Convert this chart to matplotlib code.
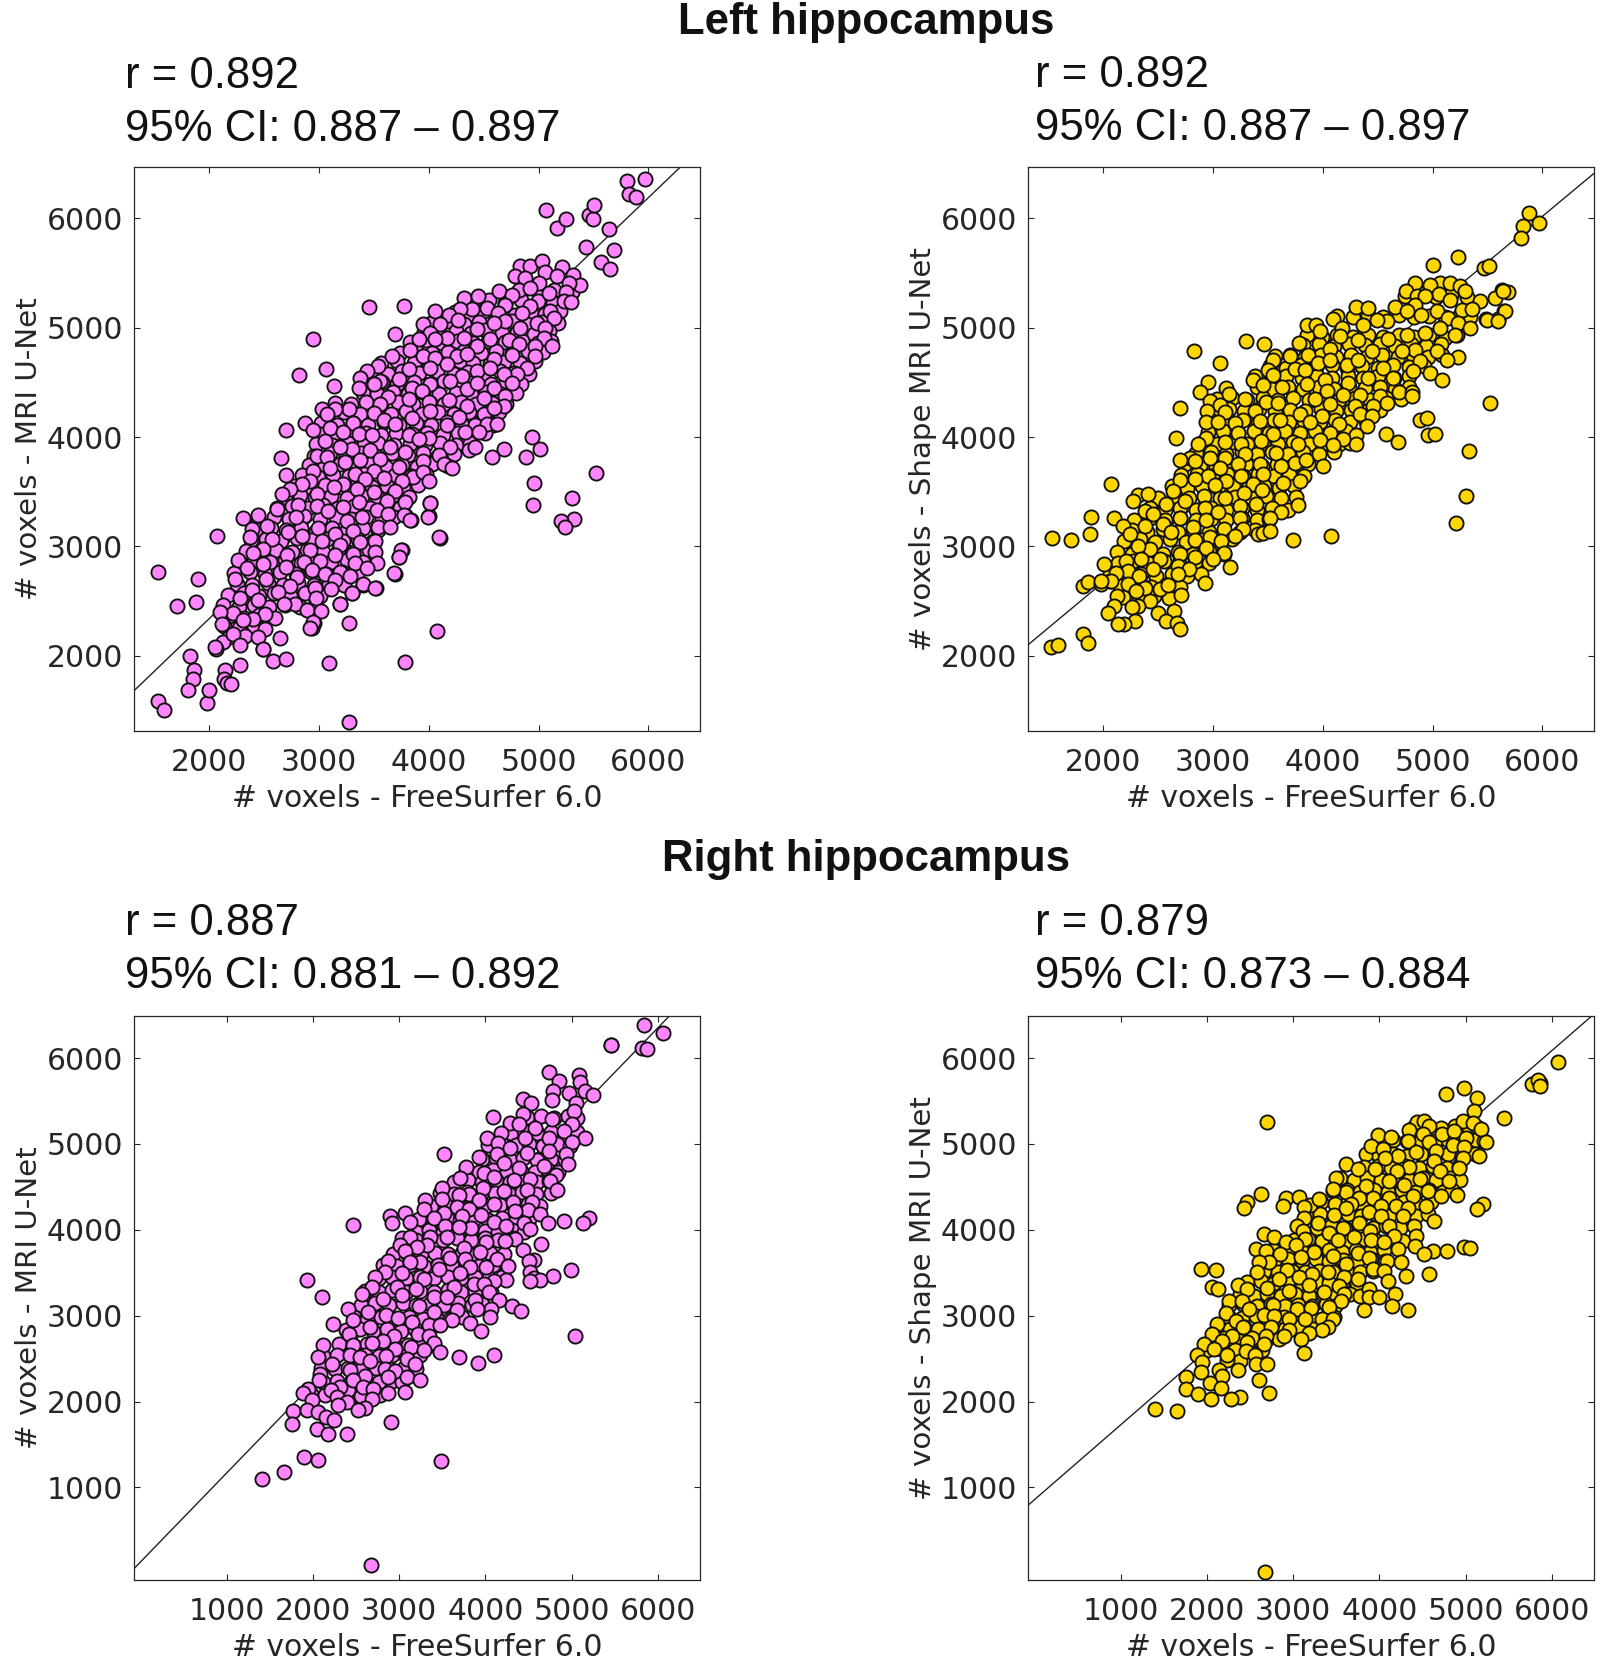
"""Scatter comparison of hippocampus volumes: FreeSurfer 6.0 vs U-Net, left and right."""
import matplotlib
matplotlib.use("Agg")
import matplotlib.pyplot as plt

W, H = 1600, 1663

PINK = "#FF85FF"
YELLOW = "#FFD700"
INK = "#262626"

# (x, y), one list per panel
# the *_HIDDEN lists are the half covered markers inside each cloud, drawn first
LEFT_MRI_HIDDEN = [
    (4840,5335),(5005,5320),(5140,5345),(5305,5330),(4405,5235),(4545,5250),(4690,5225),(4835,5255),(4990,5240),(5130,5230),
    (4240,5140),(4365,5125),(4505,5150),(4640,5135),(4785,5120),(4930,5145),(5060,5130),(5190,5150),(4020,5045),(4170,5060),
    (4320,5035),(4455,5055),(4610,5040),(4760,5060),(4895,5030),(5030,5050),(5175,5045),(3955,4960),(4100,4945),(4245,4970),
    (4380,4955),(4515,4975),(4665,4950),(4805,4965),(4955,4945),(5095,4970),(3825,4870),(3975,4885),(4115,4860),(4260,4875),
    (4405,4860),(4540,4880),(4695,4865),(4845,4880),(4990,4860),(5110,4875),(3735,4770),(3885,4785),(4025,4765),(4175,4780),
    (4315,4790),(4475,4765),(4615,4785),(4755,4770),(4905,4790),(5040,4775),(3565,4680),(3705,4695),(3860,4675),(4000,4690),
    (4125,4670),(4285,4695),(4405,4680),(4555,4665),(4685,4690),(4830,4675),(4965,4695),(3475,4590),(3625,4575),(3755,4600),
    (3905,4585),(4075,4600),(4225,4575),(4355,4595),(4495,4580),(4645,4600),(4775,4585),(4915,4575),(3425,4490),(3575,4505),
    (3705,4485),(3860,4500),(4005,4490),(4135,4510),(4285,4485),(4415,4505),(4565,4490),(4700,4500),(4840,4485),(3395,4405),
    (3525,4390),(3670,4410),(3810,4395),(3950,4415),(4095,4390),(4245,4405),(4385,4395),(4520,4415),(4660,4390),(4790,4400),
    (3145,4315),(3290,4300),(3425,4320),(3560,4305),(3715,4325),(3855,4300),(4005,4315),(4140,4300),(4290,4325),(4430,4305),
    (4575,4315),(4700,4300),(3080,4215),(3225,4230),(3375,4210),(3515,4225),(3650,4215),(3790,4235),(3940,4210),(4085,4225),
    (4225,4215),(4365,4230),(4510,4210),(4640,4225),(3020,4130),(3165,4115),(3305,4125),(3445,4110),(3590,4135),(3730,4115),
    (3880,4130),(4020,4110),(4165,4135),(4305,4115),(4445,4125),(4580,4110),(3010,4025),(3140,4040),(3285,4020),(3425,4035),
    (3560,4020),(3700,4040),(3845,4025),(3985,4040),(4125,4020),(4265,4035),(4405,4025),(4510,4040),(2975,3940),(3115,3925),
    (3260,3945),(3405,3930),(3540,3950),(3685,3925),(3825,3940),(3965,3925),(4105,3945),(4245,3930),(4370,3950),(2955,3830),
    (3100,3850),(3240,3835),(3380,3855),(3520,3830),(3665,3850),(3805,3835),(3945,3855),(4080,3830),(4225,3845),(2905,3745),
    (3045,3730),(3185,3750),(3330,3735),(3465,3755),(3610,3730),(3750,3745),(3890,3730),(4030,3750),(4170,3735),(2845,3650),
    (2985,3635),(3130,3655),(3270,3640),(3410,3660),(3550,3635),(3695,3655),(3835,3640),(3975,3660),(2770,3555),(2910,3540),
    (3055,3560),(3195,3545),(3340,3565),(3480,3540),(3620,3555),(3760,3540),(3900,3560),(2685,3450),(2825,3470),(2965,3450),
    (3110,3465),(3250,3445),(3390,3465),(3530,3450),(3670,3470),(3815,3450),(2615,3355),(2755,3370),(2895,3350),(3035,3375),
    (3175,3355),(3320,3370),(3460,3350),(3600,3365),(3735,3350),(2445,3255),(2585,3270),(2725,3250),(2865,3275),(3010,3255),
    (3150,3270),(3290,3250),(3430,3265),(3570,3255),(3680,3270),(2425,3155),(2560,3170),(2700,3150),(2835,3165),(2975,3145),
    (3115,3170),(3255,3150),(3395,3165),(3535,3150),(2375,3055),(2515,3070),(2655,3050),(2795,3075),(2935,3055),(3075,3070),
    (3215,3050),(3355,3065),(3490,3050),(2330,2960),(2470,2945),(2610,2965),(2750,2950),(2890,2965),(3030,2945),(3170,2960),
    (3310,2945),(3450,2965),(2270,2860),(2410,2875),(2550,2855),(2690,2875),(2830,2850),(2970,2870),(3110,2855),(3250,2875),
    (3400,2855),(2225,2755),(2365,2770),(2505,2750),(2645,2770),(2785,2750),(2925,2770),(3065,2750),(3205,2765),(3340,2750),
    (2250,2660),(2390,2645),(2530,2665),(2670,2650),(2810,2665),(2950,2645),(3090,2660),(3230,2645),(2170,2555),(2310,2570),
    (2450,2550),(2590,2570),(2730,2555),(2870,2570),(3010,2550),(2125,2460),(2265,2445),(2405,2465),(2545,2445),(2685,2465),
    (2825,2450),(2960,2465),(2175,2365),(2315,2350),(2455,2370),(2600,2350),(2130,2270),(2270,2255),(2410,2275),(2175,2170),
    (2320,2180),(2120,2125),
]

LEFT_MRI = [
    (1535,2769),(1706,2459),(1891,2698),(1878,2492),(1824,1995),(1857,1871),(1849,1785),(1807,1689),
    (1535,1584),(1585,1508),(1975,1570),(1996,1689),(2143,1871),(2130,1790),(2164,1747),(2197,1742),
    (2281,1914),(2579,1952),(2696,1971),(3086,1933),(3778,1947),(3275,1398),(3275,2296),(4075,2225),
    (2059,2062),(2486,2062),(2646,2167),(2931,2253),(2948,2296),(3191,2478),(3296,2573),(3400,2650),
    (3514,2621),(3686,2750),(3723,2903),(3757,2970),(3778,3290),(3832,3242),(3996,3276),(4013,3395),
    (4105,3080),(4939,3997),(5015,3887),(4880,3816),(4683,3892),(4579,3816),(4960,3581),(4952,3381),
    (5526,3667),(5300,3443),(5325,3252),(5203,3237),(5241,3180),
    (5065,6080),(5170,5913),(5245,5990),(5463,6028),(5497,5990),(5501,6119),(5644,5904),(5434,5741),
    (5690,5712),(5572,5598),(5652,5540),(5807,6338),(5966,6357),(5824,6224),(5891,6200),
    (4832,5562),(4923,5562),(5030,5613),(5212,5553),(4787,5471),(4878,5455),(5060,5510),(5167,5471),
    (5313,5486),(5379,5395),(5000,5410),(5273,5410),(4635,5334),(4817,5349),(4923,5364),(5252,5325),
    (5227,5243),(5294,5237),(4321,5273),(4443,5288),(4756,5303),(5091,5319),(4528,5182),(4695,5212),
    (4923,5197),(5106,5151),(4391,5167),(4285,5167),(4051,5151),(4179,5121),(4625,5136),(4847,5136),
    (5136,5085),(4261,5069),(3950,5036),(4437,4984),(4695,5066),(4984,5045),(4103,5030),(4589,5045),
    (4832,4999),(5060,4999),(4011,4954),(4163,4902),(4315,4908),(4559,4893),(4726,4884),(5045,4902),
    (3911,4893),(4057,4893),(4437,4832),(4817,4847),(4969,4832),(5121,4832),(3950,4741),(3829,4793),
    (4255,4741),(4346,4756),(4057,4726),(4589,4711),(4756,4750),(4969,4741),(3662,4741),(4163,4665),
    (4437,4604),(4559,4635),(4893,4629),(3540,4650),(3814,4619),(4011,4629),(4802,4580),(4300,4559),
    (4680,4574),(3434,4604),(3555,4513),(3723,4528),(4194,4513),(4756,4498),(3373,4543),(3358,4446),
    (3495,4483),(3844,4452),(4011,4483),(4346,4437),(4437,4498),(4589,4452),(3631,4370),(3935,4422),
    (4695,4376),(4179,4337),(3996,4325),(4498,4361),(4346,4285),(3555,4300),(3814,4346),(3267,4255),
    (3145,4255),(3023,4255),(3069,4215),(3495,4224),(4680,4285),(3844,4179),(4011,4240),(4270,4185),
    (4498,4215),(4589,4270),(2871,4133),(2947,4066),(2698,4066),(3312,4133),(3586,4154),(3099,4087),
    (3221,4042),(3358,4027),(3479,4021),(3692,4124),(3814,4021),(4163,4112),(4421,4112),(4528,4124),
    (4619,4124),(4331,4042),(4452,4042),(3996,3996),(3054,3966),(3297,3890),(3464,3881),(3647,3905),
    (3783,3859),(3905,3981),(4194,3905),(4361,3881),(4421,3911),(4087,3838),(2978,3829),(3069,3814),
    (3191,3905),(3236,3768),(3373,3789),(3555,3799),(3950,3777),(4133,3753),(4209,3713),(2947,3686),
    (3099,3716),(3723,3729),(3495,3692),(3859,3637),(3950,3677),(3996,3601),(2917,3601),(2841,3571),
    (2735,3525),(3327,3662),(3586,3625),(3753,3595),(3419,3616),(3221,3571),(3136,3540),(3343,3525),
    (3692,3510),(3495,3495),(2659,3479),(2978,3479),(2802,3382),(2613,3343),(3616,3419),(3215,3358),
    (3358,3403),(3783,3403),(2978,3373),(3084,3321),(3525,3333),(3631,3297),(3768,3291),(3829,3242),
    (4005,3394),(3987,3273),(4093,3084),(2789,3267),(2446,3291),(2309,3260),(3251,3236),(3388,3267),
    (2993,3169),(3540,3181),(3312,3145),(3647,3175),(2385,3160),(2522,3191),(2370,3090),(2719,3130),
    (2567,3069),(2841,3099),(3145,3114),(3373,3039),(3023,3054),(3510,3054),(3191,3017),(2917,2969),
    (2491,2978),(2400,2938),(2704,2926),(3145,2926),(3312,2932),(3510,2947),(2263,2877),(2862,2856),
    (3008,2865),(3327,2847),(3525,2847),(2339,2805),(2698,2811),(2491,2841),(2932,2780),(3434,2805),
    (3191,2765),(3054,2750),(3744,2969),(3723,2902),(3677,2756),(2233,2704),(2516,2704),(2801,2719),
    (3282,2725),(3145,2695),(2385,2598),(2735,2634),(3403,2659),(3510,2622),(3105,2613),(2963,2622),
    (3297,2573),(2628,2582),(2279,2531),(2972,2528),(2446,2507),(3191,2476),(2780,2476),(2680,2470),
    (2507,2385),(2887,2422),(3014,2409),(2218,2391),(2096,2400),(2400,2339),(2309,2324),(2111,2288),
    (2507,2248),(2947,2309),(2917,2257),(2218,2197),(2446,2172),(2279,2096),(2051,2081),(2491,2066),
    (2072,3099),(2649,3805),(2698,3653),(2820,4568),(2947,4899),(3063,4619),(3136,4467),(3458,5191),
    (3774,5197),(3692,4939),
]

LEFT_SHAPE_HIDDEN = [
    (4750,5290),(4890,5305),(5030,5285),(5170,5300),(5310,5280),(4130,5110),(4270,5095),(4410,5115),(4550,5100),(4690,5120),
    (4830,5095),(4970,5110),(5110,5100),(5250,5115),(5340,5100),(3850,4930),(3990,4915),(4130,4935),(4270,4915),(4410,4930),
    (4550,4915),(4690,4935),(4830,4915),(4970,4930),(5110,4910),(5225,4930),(3820,4840),(3960,4855),(4100,4835),(4240,4855),
    (4380,4840),(4520,4855),(4660,4835),(4800,4855),(4940,4835),(5080,4850),(3560,4740),(3700,4755),(3840,4735),(3980,4750),
    (4120,4730),(4260,4755),(4400,4735),(4540,4750),(4680,4730),(4820,4755),(4960,4735),(5085,4750),(3520,4650),(3660,4635),
    (3800,4655),(3940,4640),(4080,4655),(4220,4635),(4360,4650),(4500,4635),(4640,4655),(4780,4640),(4920,4650),(3385,4555),
    (3525,4540),(3665,4560),(3805,4540),(3945,4555),(4085,4540),(4225,4560),(4365,4540),(4505,4555),(4645,4540),(4785,4555),
    (3400,4455),(3540,4440),(3680,4460),(3820,4440),(3960,4455),(4100,4440),(4240,4460),(4380,4445),(4520,4460),(4660,4440),
    (4780,4460),(3030,4345),(3170,4360),(3310,4340),(3450,4360),(3590,4340),(3730,4355),(3870,4340),(4010,4360),(4150,4340),
    (4290,4355),(4430,4340),(4570,4360),(4710,4345),(3000,4240),(3140,4255),(3280,4235),(3420,4255),(3560,4235),(3700,4250),
    (3840,4235),(3980,4255),(4120,4235),(4260,4250),(4400,4235),(4520,4250),(2990,4150),(3130,4135),(3270,4155),(3410,4135),
    (3550,4155),(3690,4135),(3830,4150),(3970,4135),(4110,4155),(4250,4135),(4390,4150),(2950,4045),(3090,4060),(3230,4040),
    (3370,4060),(3510,4040),(3650,4055),(3790,4040),(3930,4060),(4070,4040),(4210,4055),(2890,3950),(3030,3935),(3170,3955),
    (3310,3935),(3450,3950),(3590,3935),(3730,3955),(3870,3935),(4010,3950),(4150,3935),(4250,3950),(2840,3850),(2980,3865),
    (3120,3845),(3260,3865),(3400,3845),(3540,3860),(3680,3845),(3820,3865),(3960,3845),(4100,3860),(2740,3750),(2880,3735),
    (3020,3755),(3160,3735),(3300,3750),(3440,3735),(3580,3755),(3720,3735),(3860,3750),(4000,3735),(2710,3650),(2850,3665),
    (2990,3645),(3130,3665),(3270,3645),(3410,3660),(3550,3645),(3690,3665),(3830,3645),(2620,3550),(2760,3535),(2900,3555),
    (3040,3535),(3180,3550),(3320,3535),(3460,3555),(3600,3535),(3740,3550),(2500,3445),(2640,3460),(2780,3440),(2920,3460),
    (3060,3440),(3200,3455),(3340,3440),(3480,3460),(3620,3440),(3750,3455),(2420,3350),(2560,3335),(2700,3355),(2840,3335),
    (2980,3350),(3120,3335),(3260,3355),(3400,3335),(3540,3350),(3680,3335),(2280,3245),(2420,3260),(2560,3240),(2700,3260),
    (2840,3240),(2980,3255),(3120,3240),(3260,3260),(3400,3240),(3510,3255),(2260,3150),(2400,3135),(2540,3155),(2680,3135),
    (2820,3150),(2960,3135),(3100,3155),(3240,3135),(3380,3150),(2190,3050),(2330,3065),(2470,3045),(2610,3065),(2750,3045),
    (2890,3060),(3030,3045),(3170,3065),(2120,2950),(2260,2935),(2400,2955),(2540,2935),(2680,2950),(2820,2935),(2960,2955),
    (3100,2935),(2130,2850),(2270,2865),(2410,2845),(2550,2865),(2690,2845),(2830,2860),(2960,2845),(2060,2745),(2200,2730),
    (2340,2750),(2480,2730),(2620,2745),(2760,2730),(2890,2750),(2150,2635),(2290,2650),(2430,2630),(2570,2650),(2700,2630),
    (2180,2540),(2320,2525),(2460,2545),(2600,2525),
]

LEFT_SHAPE = [
    (1535,3075),(1706,3056),(1887,3271),(1878,3113),(1811,2635),(1862,2674),(1975,2659),(2063,2683),
    (1526,2081),(1581,2096),(1816,2196),(1857,2119),(5878,6052),(5820,5927),(5803,5822),(5966,5961),
    (5690,5330),(5635,5344),(5648,5149),(5593,5082),(5488,5082),
    (5235,5644),(5003,5577),(5464,5546),(5509,5561),(4840,5409),(5068,5409),(4977,5394),(5159,5409),
    (5251,5379),(5296,5333),(4760,5340),(5062,5309),(4853,5288),(4929,5288),(5159,5258),(5430,5243),
    (5567,5273),(5643,5333),(4304,5188),(4410,5182),(4657,5188),(4840,5212),(5265,5166),(5357,5175),
    (5037,5151),(5655,5151),(5494,5075),(5591,5065),(4094,5083),(3850,5029),(3941,5023),(4581,5059),
    (4763,5151),(4897,5120),(4173,4998),(4363,5029),(4490,5075),(3972,4974),(5144,5090),(5235,5044),
    (5336,4998),(4931,4953),(5205,4937),(5068,4998),(4155,4922),(4322,4892),(4596,4901),(4763,4937),
    (3780,4861),(3302,4876),(3461,4852),(2825,4791),(3065,4673),(4063,4809),(4444,4791),(4840,4800),
    (5037,4785),(4718,4785),(3865,4749),(3698,4739),(5235,4730),(5129,4709),(3546,4709),(3957,4679),
    (4216,4663),(4063,4709),(4322,4709),(4551,4633),(4885,4694),(3500,4618),(3744,4627),(3835,4609),
    (4825,4602),(4971,4587),(4414,4541),(5083,4526),(3546,4572),(4642,4541),(4018,4526),(3363,4526),
    (3631,4456),(3850,4487),(4231,4496),(2952,4502),(3454,4475),(4033,4426),(4696,4414),(3114,4450),
    (3144,4398),(2876,4411),(4809,4414),(4809,4374),(4337,4389),(4520,4374),(4185,4389),(3287,4344),
    (3485,4323),(3926,4344),(3592,4313),(4063,4298),(2974,4328),(3059,4292),(2694,4268),(4292,4283),
    (4459,4283),(4581,4313),(3378,4237),(2943,4243),(3104,4231),(5525,4313),(3789,4207),(3987,4192),
    (4337,4213),(3424,4146),(2937,4137),(3044,4140),(3196,4131),(3607,4152),(3881,4140),(4149,4122),
    (4444,4192),(4886,4152),(4946,4176),(4398,4100),(3226,4039),(3546,4024),(4063,4039),(4575,4030),
    (4961,4018),(5022,4024),(4681,3957),(2657,3988),(3439,3963),(3972,3969),(4301,4018),(4298,3933),
    (4185,3979),(2937,3994),(2861,3939),(3104,3957),(3257,3933),(3774,3933),(4094,3927),(5327,3872),
    (3576,3857),(3287,3848),(3104,3811),(2968,3811),(2785,3811),(2694,3787),(2831,3781),(3424,3750),
    (3226,3750),(3744,3765),(3844,3787),(3622,3735),(2952,3644),(3059,3714),(3455,3659),(3257,3644),
    (2694,3604),(2831,3613),(3789,3598),(3637,3583),(2070,3574),(3120,3598),(3363,3574),(2633,3507),
    (2313,3467),(2404,3476),(2273,3415),(3013,3561),(2739,3415),(3448,3513),(3278,3491),(3105,3446),
    (2572,3391),(2922,3354),(3242,3370),(3394,3391),(3768,3379),(3622,3318),(3515,3263),(2374,3324),
    (2450,3294),(3044,3315),(2100,3257),(2182,3187),(2694,3263),(3248,3257),(2937,3239),(2374,3187),
    (2541,3202),(2815,3178),(2243,3111),(2617,3132),(3272,3157),(3196,3096),(3409,3117),(3454,3127),
    (3515,3141),(3729,3056),(4073,3096),(5302,3461),(5211,3211),(2831,3056),(2968,3087),(2420,2974),
    (2313,3004),(3074,3050),(2937,2989),(3095,2944),(2694,2928),(2511,2883),(2207,2867),(2009,2843),
    (2831,2904),(2996,2883),(2343,2883),(2678,2822),(2450,2791),(2776,2791),(3150,2815),(2222,2776),
    (2115,2761),(2678,2746),(2328,2730),(2070,2685),(2222,2660),(2511,2614),(2380,2618),(2587,2648),
    (2928,2663),(1978,2685),(2298,2593),(2121,2548),(2709,2554),(2420,2502),(2100,2457),(2313,2457),
    (2261,2447),(2039,2395),(2496,2389),(2639,2411),(2572,2319),(2283,2319),(2191,2295),(2130,2295),
    (2669,2304),(2694,2243),
]

RIGHT_MRI_HIDDEN = [
    (4480,5310),(4640,5325),(4800,5305),(4960,5320),(5060,5305),(4300,5130),(4450,5145),(4600,5125),(4760,5140),(4920,5120),
    (5060,5135),(4030,4990),(4190,5005),(4350,4985),(4510,5000),(4670,4980),(4830,5000),(4985,4980),(3960,4820),(4120,4835),
    (4280,4815),(4440,4835),(4600,4815),(4760,4830),(4920,4815),(3770,4690),(3930,4675),(4090,4695),(4250,4675),(4410,4690),
    (4570,4675),(4730,4695),(4840,4675),(3640,4560),(3800,4575),(3960,4555),(4120,4575),(4280,4555),(4440,4570),(4600,4555),
    (4740,4570),(3470,4430),(3630,4415),(3790,4435),(3950,4415),(4110,4430),(4270,4415),(4430,4435),(4590,4415),(4760,4430),
    (3370,4280),(3530,4295),(3690,4275),(3850,4295),(4010,4275),(4170,4290),(4330,4275),(4490,4295),(4630,4275),(3230,4130),
    (3390,4115),(3550,4135),(3710,4115),(3870,4130),(4030,4115),(4190,4135),(4350,4115),(4510,4130),(3190,3980),(3350,3995),
    (3510,3975),(3670,3995),(3830,3975),(3990,3990),(4150,3975),(4310,3995),(4450,3975),(3030,3900),(3190,3885),(3350,3905),
    (3510,3885),(3670,3900),(3830,3885),(3990,3905),(4150,3885),(4320,3900),(2930,3720),(3090,3735),(3250,3715),(3410,3735),
    (3570,3715),(3730,3730),(3890,3715),(4050,3735),(4210,3715),(2810,3590),(2970,3575),(3130,3595),(3290,3575),(3450,3590),
    (3610,3575),(3770,3595),(3930,3575),(4090,3590),(4250,3575),(2760,3440),(2920,3455),(3080,3435),(3240,3455),(3400,3435),
    (3560,3450),(3720,3435),(3880,3455),(4040,3435),(4190,3450),(2600,3290),(2760,3275),(2920,3295),(3080,3275),(3240,3290),
    (3400,3275),(3560,3295),(3720,3275),(3880,3290),(4060,3275),(2560,3130),(2720,3145),(2880,3125),(3040,3145),(3200,3125),
    (3360,3140),(3520,3125),(3680,3145),(3840,3125),(3960,3140),(2470,2980),(2630,2965),(2790,2985),(2950,2965),(3110,2980),
    (3270,2965),(3430,2985),(3590,2965),(3730,2980),(2380,2830),(2540,2845),(2700,2825),(2860,2845),(3020,2825),(3180,2840),
    (3340,2825),(2300,2670),(2460,2655),(2620,2675),(2780,2655),(2940,2670),(3100,2655),(3260,2675),(3400,2655),(2120,2530),
    (2280,2545),(2440,2525),(2600,2545),(2760,2525),(2920,2540),(3080,2525),(3240,2545),(2090,2390),(2250,2375),(2410,2395),
    (2570,2375),(2730,2390),(2890,2375),(3050,2395),(3190,2375),(2120,2230),(2280,2245),(2440,2225),(2600,2245),(2760,2225),
    (2920,2240),(3030,2225),(1980,2090),(2140,2075),(2300,2095),(2460,2075),(2620,2090),(2780,2075),(2400,2130),(2560,2060),
]

RIGHT_MRI = [
    (1411,1098),(1661,1183),(1896,1360),(2056,1323),(3485,1305),(2669,91),(5459,6158),(5837,6384),
    (5816,6116),(5875,6110),(6061,6293),
    (5457,6149),(4733,5835),(5082,5808),(4849,5738),(5093,5723),(4780,5622),(4973,5595),(5159,5614),
    (5244,5568),(4772,5506),(5055,5479),(4431,5525),(4528,5479),(5024,5382),(4083,5316),(4431,5343),
    (4772,5285),(5004,5227),(4288,5247),(4578,5181),(4908,5150),(5159,5065),(4017,5065),(4180,5130),
    (4385,5227),(4462,5072),(4733,5072),(5004,5026),(4141,5014),(4288,4956),(3920,4848),(3522,4887),
    (4733,4918),(4939,4887),(4482,4898),(4133,4887),(4954,4771),(4675,4743),(3777,4732),(4211,4782),
    (4385,4716),(3979,4666),(4822,4635),(3708,4608),(4102,4616),(4520,4588),(4327,4577),(4745,4569),
    (4830,4461),(3495,4484),(3971,4492),(4482,4465),(3804,4422),(4211,4453),(3495,4356),(3301,4345),
    (3688,4407),(3920,4345),(4319,4329),(4540,4329),(3669,4267),(4095,4298),(3804,4248),(3282,4248),
    (4489,4232),(3522,4194),(3069,4201),(2895,4163),(3727,4163),(4637,4190),(4346,4221),(3947,4174),
    (2914,4085),(3127,4093),(2469,4058),(4102,4093),(4242,4047),(4451,4074),(4722,4074),(4907,4105),
    (5198,4132),(5132,4074),(3398,4143),(3835,4020),(3533,4047),(4520,4008),(3688,4035),(3119,3919),
    (3359,3911),(3553,3911),(4338,3892),(4005,3853),(4230,3872),(4644,3834),(3003,3826),(3320,3826),
    (3746,3787),(4435,3768),(3204,3803),(3940,3737),(3069,3748),(3591,3671),(4133,3659),(4559,3648),
    (4501,3632),(3766,3659),(2875,3640),(3243,3621),(3127,3621),(3456,3543),(4261,3582),(4009,3563),
    (3824,3563),(4989,3536),(3030,3493),(2837,3505),(3707,3497),(4520,3505),(4784,3458),(4559,3439),
    (4629,3416),(4520,3400),(2720,3447),(1935,3416),(3290,3427),(4242,3416),(4095,3400),(3862,3369),
    (3630,3330),(3978,3369),(2682,3330),(3193,3311),(2972,3338),(2101,3214),(2565,3253),(3398,3214),
    (3553,3214),(4036,3272),(4153,3183),(3882,3183),(3030,3245),(2817,3195),(3231,3110),(4307,3110),
    (4412,3052),(2411,3079),(4064,3079),(3669,3067),(2848,3013),(2643,3040),(3398,3040),(3901,3079),
    (2980,2970),(2469,2951),(3146,2924),(3611,2951),(4056,2982),(2236,2905),(3351,2897),(3475,2897),
    (3816,2912),(2662,2866),(3948,2827),(5043,2761),(2422,2788),(3212,2788),(2941,2758),(3340,2758),
    (2817,2711),(3398,2680),(2682,2680),(3135,2641),(2469,2653),(2120,2653),(2953,2614),(3293,2595),
    (3475,2576),(2062,2518),(4095,2537),(3696,2518),(2430,2537),(2848,2525),(3909,2448),(2546,2518),
    (3088,2498),(2217,2440),(2662,2471),(3185,2440),(2836,2382),(2945,2355),(2430,2363),(2082,2324),
    (2604,2293),(2875,2285),(3088,2285),(3243,2254),(2074,2254),(2469,2246),(2314,2169),(1946,2150),
    (2206,2138),(2585,2169),(2701,2150),(2875,2099),(3069,2111),(1888,2099),(1985,2014),(2275,2053),
    (2682,2034),(2391,1995),(2604,1925),(2527,1906),(2295,1956),(1764,1887),(1935,1898),(2062,1879),
    (2151,1821),(2244,1790),(1753,1743),(2902,1763),(2043,1685),(2178,1619),(2391,1619),
]

RIGHT_SHAPE_HIDDEN = [
    (4400,5195),(4560,5210),(4720,5190),(4880,5205),(5040,5185),(5130,5200),(4000,5035),(4160,5050),(4320,5030),(4480,5050),
    (4640,5030),(4800,5045),(4960,5030),(5120,5045),(5210,5030),(3840,4880),(4000,4865),(4160,4885),(4320,4865),(4480,4880),
    (4640,4865),(4800,4885),(4960,4865),(5110,4880),(3820,4730),(3980,4745),(4140,4725),(4300,4745),(4460,4725),(4620,4740),
    (4780,4725),(4920,4740),(3540,4600),(3700,4585),(3860,4605),(4020,4585),(4180,4600),(4340,4585),(4500,4605),(4660,4585),
    (4820,4600),(4940,4585),(3460,4450),(3620,4465),(3780,4445),(3940,4465),(4100,4445),(4260,4460),(4420,4445),(4580,4465),
    (4740,4445),(4840,4460),(3320,4320),(3480,4305),(3640,4325),(3800,4305),(3960,4320),(4120,4305),(4280,4325),(4440,4305),
    (4600,4320),(3150,4170),(3310,4185),(3470,4165),(3630,4185),(3790,4165),(3950,4180),(4110,4165),(4270,4185),(4430,4165),
    (4560,4180),(3120,4040),(3280,4025),(3440,4045),(3600,4025),(3760,4040),(3920,4025),(4080,4045),(4240,4025),(4400,4040),
    (3010,3880),(3170,3895),(3330,3875),(3490,3895),(3650,3875),(3810,3890),(3970,3875),(4130,3895),(4270,3875),(2770,3760),
    (2930,3745),(3090,3765),(3250,3745),(3410,3760),(3570,3745),(3730,3765),(3890,3745),(4050,3760),(2780,3640),(2940,3655),
    (3100,3635),(3260,3655),(3420,3635),(3580,3650),(3740,3635),(3900,3655),(4060,3635),(2660,3520),(2820,3505),(2980,3525),
    (3140,3505),(3300,3520),(3460,3505),(3620,3525),(3780,3505),(3920,3520),(2460,3390),(2620,3405),(2780,3385),(2940,3405),
    (3100,3385),(3260,3400),(3420,3385),(3580,3405),(3740,3385),(2380,3250),(2540,3235),(2700,3255),(2860,3235),(3020,3250),
    (3180,3235),(3340,3255),(3500,3235),(3660,3250),(3770,3235),(2260,3120),(2420,3135),(2580,3115),(2740,3135),(2900,3115),
    (3060,3130),(3220,3115),(3380,3135),(3490,3115),(2250,2990),(2410,2975),(2570,2995),(2730,2975),(2890,2990),(3050,2975),
    (3210,2995),(3370,2975),(3470,2990),(2110,2860),(2270,2845),(2430,2865),(2590,2845),(2750,2860),(2910,2845),(3070,2865),
    (3230,2845),(2040,2720),(2200,2735),(2360,2715),(2520,2735),(2680,2715),(2840,2730),(2000,2600),(2160,2615),(2320,2595),
    (2480,2615),(2640,2595),(2380,2470),(2230,2480),
]

RIGHT_SHAPE = [
    (1401,1909),(2700,5256),(2674,12),(5861,5713),(5775,5700),(5845,5744),(5866,5671),(6070,5951),
    (4977,5653),(4772,5576),(5128,5537),(5101,5382),(5449,5297),(4431,5254),(4520,5266),(4966,5266),
    (5082,5247),(4578,5208),(5179,5169),(4346,5158),(3978,5103),(4133,5080),(4501,5111),(5236,5026),
    (4725,5111),(4869,5150),(4327,5034),(4571,5026),(5004,5072),(4849,4987),(4985,4964),(3901,4976),
    (4036,4937),(4424,4910),(4656,4918),(4211,4859),(4067,4832),(5159,4859),(4966,4840),(4637,4801),
    (3611,4770),(3746,4705),(4346,4732),(3951,4705),(4203,4685),(3495,4608),(4706,4685),(4927,4724),
    (4470,4588),(4811,4569),(3843,4511),(4114,4569),(4288,4523),(3611,4445),(3456,4472),(4559,4453),
    (4714,4395),(4896,4403),(2631,4414),(2469,4329),(2430,4259),(2914,4376),(3061,4387),(2883,4279),
    (3193,4290),(3127,4267),(3920,4376),(3301,4356),(3765,4376),(4114,4376),(4385,4395),(4191,4279),
    (4017,4279),(4327,4259),(3669,4298),(4540,4279),(5198,4298),(5128,4240),(3475,4174),(3882,4213),
    (3127,4143),(3611,4259),(4017,4163),(4269,4163),(3282,4074),(4637,4105),(3765,4085),(3580,4027),
    (4114,4047),(3049,4047),(3108,3988),(3417,3958),(3893,3988),(2662,3950),(4172,3931),(4424,3931),
    (3707,3911),(3138,3892),(2778,3911),(3514,3880),(3901,3880),(2914,3853),(4056,3853),(3030,3826),
    (4412,3814),(4977,3803),(5055,3787),(2565,3776),(2682,3756),(4617,3756),(4780,3756),(4520,3718),
    (4211,3776),(3243,3737),(2844,3718),(3456,3698),(3746,3725),(3088,3679),(3874,3671),(4083,3640),
    (4249,3621),(2720,3621),(3611,3601),(2933,3532),(2604,3621),(1927,3543),(2101,3536),(3920,3543),
    (4056,3524),(3223,3485),(2585,3505),(2836,3427),(3061,3454),(3398,3505),(4308,3466),(4571,3485),
    (3591,3447),(3746,3427),(2062,3338),(2132,3311),(2364,3358),(2693,3319),(3185,3361),(4095,3400),
    (2469,3311),(2953,3292),(3533,3350),(3874,3311),(3359,3272),(4184,3253),(3882,3222),(3998,3214),
    (2256,3168),(2411,3176),(3591,3253),(3553,3176),(2767,3129),(3049,3079),(4141,3118),(4331,3071),
    (3816,3067),(3204,3090),(3417,3098),(2488,3079),(2217,3028),(2662,3013),(2778,3001),(3332,2961),
    (3456,2961),(2953,2963),(3138,2963),(2333,2943),(2418,2866),(2740,2873),(2120,2905),(3398,2873),
    (2953,2835),(3332,2835),(3185,2796),(2294,2758),(2062,2788),(2689,2769),(2894,2769),(3088,2730),
    (2178,2711),(2469,2692),(1965,2665),(2662,2665),(2082,2614),(2449,2583),(3127,2564),(1888,2548),
    (2236,2537),(2558,2537),(1946,2459),(2573,2432),(2701,2432),(2360,2370),(2140,2363),(1934,2343),
    (2604,2254),(2178,2293),(1753,2285),(2031,2215),(2167,2161),(1760,2150),(1896,2092),(2720,2099),
    (2380,2053),(2275,2026),(2043,2026),(1656,1890),
]

PANEL_HIDDEN = [LEFT_MRI_HIDDEN, LEFT_SHAPE_HIDDEN, RIGHT_MRI_HIDDEN, RIGHT_SHAPE_HIDDEN]
PANEL_POINTS = [LEFT_MRI, LEFT_SHAPE, RIGHT_MRI, RIGHT_SHAPE]
PANEL_COLORS = [PINK, YELLOW, PINK, YELLOW]
LINE_SLOPES = [0.962, 0.836, 1.036, 0.871]
LINE_INTERCEPTS = [418, 1003, 135, 860]
Y_LABELS = ["# voxels - MRI U-Net", "# voxels - Shape MRI U-Net",
            "# voxels - MRI U-Net", "# voxels - Shape MRI U-Net"]
X_LABEL = "# voxels - FreeSurfer 6.0"
R_TEXT = ["r = 0.892", "r = 0.892", "r = 0.887", "r = 0.879"]
CI_TEXT = ["95% CI: 0.887 – 0.897", "95% CI: 0.887 – 0.897",
           "95% CI: 0.881 – 0.892", "95% CI: 0.873 – 0.884"]
TOP_TICKS = [2000, 3000, 4000, 5000, 6000]
BOTTOM_TICKS = [1000, 2000, 3000, 4000, 5000, 6000]
TOP_LIM = (1312, 6470)
BOTTOM_LIM = (-78, 6490)

# panel boxes in pixels: left, top, right, bottom
BOXES = [(134, 167, 700, 731), (1028, 167, 1594, 731),
         (134, 1016, 700, 1580), (1028, 1016, 1594, 1580)]
TEXT_X = [125, 1035, 125, 1035]
R_BASE = [88, 87, 935, 935]
CI_BASE = [141, 140, 988, 988]


def px_x(x):
    return x / W


def px_y(y):
    return 1 - y / H


def main():
    fig = plt.figure(figsize=(W / 100, H / 100), dpi=100)
    for i, (l, t, r, b) in enumerate(BOXES):
        ax = fig.add_axes([px_x(l), px_y(b), (r - l) / W, (b - t) / H])
        ax.axline((0, LINE_INTERCEPTS[i]), slope=LINE_SLOPES[i], color="#222222", lw=1.0, zorder=1)
        for points in (PANEL_HIDDEN[i], PANEL_POINTS[i]):
            xs = [p[0] for p in points]
            ys = [p[1] for p in points]
            ax.scatter(xs, ys, s=104, c=PANEL_COLORS[i], edgecolors="#111111", linewidths=1.35,
                       zorder=2, clip_on=True)
        top = i < 2
        lim = TOP_LIM if top else BOTTOM_LIM
        ticks = TOP_TICKS if top else BOTTOM_TICKS
        ax.set_xlim(lim)
        ax.set_ylim(lim)
        ax.set_xticks(ticks)
        ax.set_yticks(ticks)
        ax.tick_params(direction="in", length=4.5, width=0.8, top=True, right=True,
                       labelsize=21.5, colors=INK)
        ax.tick_params(axis="x", pad=12.5)
        ax.tick_params(axis="y", pad=8)
        for sp in ax.spines.values():
            sp.set_linewidth(0.9)
            sp.set_color(INK)
        ax.set_xlabel(X_LABEL, fontsize=21.5, color=INK, labelpad=5)
        ax.set_ylabel(Y_LABELS[i], fontsize=21.2, color=INK, labelpad=2.5)
        fig.text(px_x(TEXT_X[i]), px_y(R_BASE[i]), R_TEXT[i], family="Liberation Sans",
                 fontsize=31.5, color="#111111", va="baseline")
        fig.text(px_x(TEXT_X[i]), px_y(CI_BASE[i]), CI_TEXT[i], family="Liberation Sans",
                 fontsize=31.5, color="#111111", va="baseline")

    fig.text(px_x(866), px_y(34), "Left hippocampus", family="Liberation Sans", weight="bold",
             fontsize=31.5, ha="center", va="baseline", color="#111111")
    fig.text(px_x(866), px_y(871), "Right hippocampus", family="Liberation Sans", weight="bold",
             fontsize=31.5, ha="center", va="baseline", color="#111111")
    fig.savefig("out.png", dpi=100)
    plt.close(fig)


if __name__ == "__main__":
    main()
